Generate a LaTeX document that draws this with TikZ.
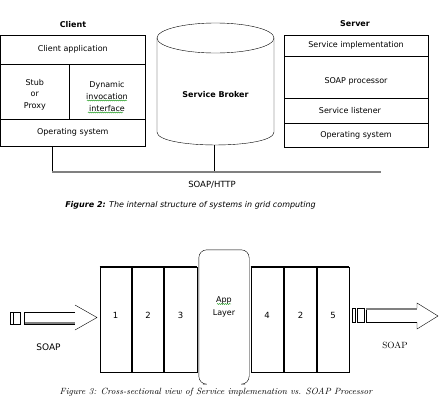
\documentclass[tikz,border=0pt]{standalone}
\usepackage{fontspec}
\newfontfamily\dejavu{DejaVu Sans}
\usetikzlibrary{decorations.pathmorphing}
\begin{document}
\begin{tikzpicture}[x=1pt, y=-1pt, cell/.style={draw, thin, inner
      sep=0pt, align=center, font=\dejavu\fontsize{8}{11.5}\selectfont},
    head/.style={font=\dejavu\bfseries\fontsize{8}{10}\selectfont},
    layer/.style={draw, line width=0.8pt, inner sep=0pt, minimum
      height=105, text height=6.2pt, text depth=9pt,
      font=\dejavu\fontsize{8.5}{10}\selectfont},
    squiggle/.style={green!55!black, line width=0.4pt, decorate,
      decoration={snake, amplitude=0.5pt, segment length=2pt}}]
    \useasboundingbox (0,0) rectangle (444,402);

    \node [head] (client) at (73,25) {Client}; \node [head] (server)
    at (355,24) {Server};
    \begin{scope}[every node/.style={cell}]
      \node [minimum width=144.4, minimum height=29] (capp) at
      (72.8,49.5) {Client application}; \node [minimum width=68.4,
      minimum height=55] (stub) at (34.8,91.5)
      {\rule{0pt}{12pt}Stub\\or\\Proxy}; \node [minimum width=76,
      minimum height=55, font=\dejavu\fontsize{8}{12}\selectfont]
      (dii) at (107,91.5) {\rule{0pt}{16pt}Dynamic\\invocation\\interface};
      \node [minimum width=144.4, minimum height=27] (cos) at
      (72.8,132.5) {Operating system};
      \node [minimum width=144, minimum height=21] (simpl) at
      (356,45.5) {Service implementation}; \node [minimum width=144,
      minimum height=42, text height=15.5pt, text depth=1.7pt]
      (sproc) at (356,77) {SOAP processor}; \node [minimum width=144,
      minimum height=25] (slist) at (356,110.5) {\hspace*{-12pt}Service
        listener}; \node [minimum width=144, minimum height=24] (sos)
      at (356,135) {Operating system};
    \end{scope}
    \draw[squiggle] (87,100.5) -- (127,100.5); \draw[squiggle]
    (88,112.5) -- (123,112.5);

    \draw (157,38) -- (157,132) .. controls (157,149.3) and
    (274,149.3) .. (274,132) -- (274,38); \draw (215.5,38) ellipse
    [x radius=58.5pt, y radius=15pt];
    \node [head] (broker) at (215.5,95) {Service Broker};
    \coordinate (bkbot) at (214,145);

    \coordinate (busl) at (52,172); \coordinate (busr) at (381,172);
    \draw (busl |- cos.south) -- (busl); \draw (bkbot) -- (bkbot |-
    busl); \draw[gray, line width=1.3pt] (busl) -- (busr);
    \node [font=\dejavu\fontsize{8.5}{10}\selectfont] (http) at
    (212,185) {SOAP/HTTP};
    \node [font=\dejavu\itshape\fontsize{8}{10}\selectfont] (cap2) at
    (190.5,205) {\textbf{Figure 2:} The internal structure of systems
      in grid computing};

    \begin{scope}[every node/.style={layer}]
      \node [minimum width=31] (l1) at (115.5,319.5) {1}; \node
      [minimum width=32] (l2) at (148,319.5) {2}; \node [minimum
      width=33] (l3) at (180.5,319.5) {3}; \node [minimum width=32]
      (l4) at (267,319.5) {4}; \node [minimum width=33] (l6) at
      (300.5,319.5) {2}; \node [minimum width=32] (l5) at (333,319.5)
      {5};
    \end{scope}
    \begin{scope}[line width=1.8pt]
      \draw (l1.north west) -- (l3.north east); \draw (l4.north west)
      -- (l5.north east); \draw (l3.north west) -- (l3.south west);
      \draw (l5.north west) -- (l5.south west);
    \end{scope}

    \node [minimum width=50, minimum height=134, inner sep=0pt] (app)
    at (224,317) {}; \draw[rounded corners=8pt] ([xshift=4pt]app.south
    west) -- (app.south west) -- (app.north west) -- (app.north east)
    -- (app.south east) -- ([xshift=-4pt]app.south east);
    \node [align=center, font=\dejavu\fontsize{8}{13}\selectfont]
    (applbl) at (224,306.5) {App\\Layer}; \draw[squiggle] (217,304)
    -- (231,304);

    \draw (10,311.7) rectangle (12.7,324); \draw (13.5,311.7)
    rectangle (20.5,324); \draw (75,312) -- (24,312) -- (24,324) --
    (75,324); \draw (75,305) -- (97,317.5) -- (75,330);
    \draw[gray, line width=1.5pt] (24.5,323) -- (75,323);
    \node [font=\dejavu\fontsize{9}{10}\selectfont] (soapl) at
    (48.5,347) {SOAP};

    \draw (352,308) rectangle (355.5,322); \draw (357,308) rectangle
    (364,322); \draw (417,308) -- (366,308) -- (366,322) -- (417,322);
    \draw (417,308) -- (417,303) -- (438,316) -- (417,329) --
    (417,322); \draw[gray, line width=1.5pt] (366,309) -- (417,309);
    \node [font=\fontsize{9}{10}\selectfont] (soapr) at (395,345)
    {SOAP};

    \node [font=\itshape\fontsize{9}{10}\selectfont] (cap3) at
    (216,392) {Figure 3: Cross-sectional view of Service implemenation
      vs. SOAP Processor};
  \end{tikzpicture}
\end{document}
